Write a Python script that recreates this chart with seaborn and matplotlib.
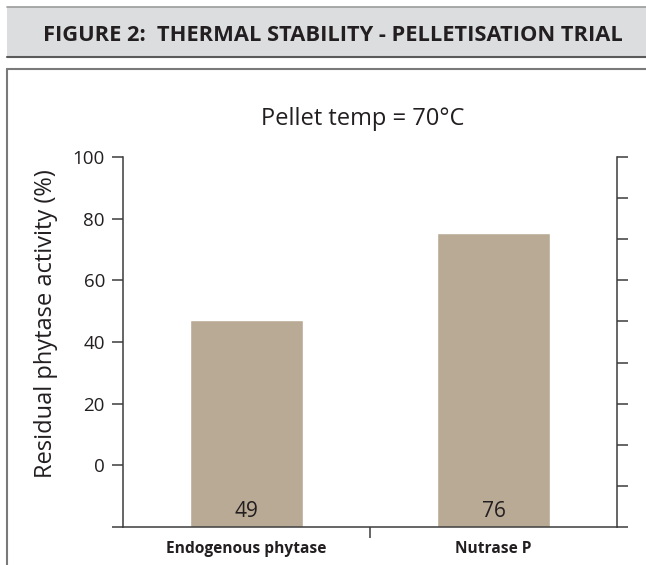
import numpy as np
import pandas as pd
import matplotlib
matplotlib.use("Agg")
import matplotlib.pyplot as plt
from matplotlib.patches import Rectangle
from matplotlib.lines import Line2D
import seaborn as sns

# ---- data ----
categories = ["Endogenous phytase", "Nutrase P"]
bar_tops = [47, 75.5]          # bar top heights as drawn
value_labels = ["49", "76"]    # printed values
y_tick_values = [-20, 0, 20, 40, 60, 80, 100]
y_tick_labels = ["", "0", "20", "40", "60", "80", "100"]
header_text = "FIGURE 2:  THERMAL STABILITY - PELLETISATION TRIAL"
title_text = "Pellet temp = 70°C"
ylabel_text = "Residual phytase activity (%)"

W, H = 646, 565
Y_MIN, Y_MAX = -20, 100
TXT = "#231f20"
BAR = "#b9aa95"
SPINE = "#3c3c3c"

sns.set_style("ticks")
plt.rcParams["font.family"] = ["Open Sans", "DejaVu Sans"]

fig = plt.figure(figsize=(W / 100, H / 100), dpi=100)

def fx(px):
    return px / W

def fy(py):
    return 1 - py / H

# header band and frame
fig.patches.append(Rectangle((fx(7), fy(56)), fx(646) - fx(7), fy(7) - fy(56),
                             transform=fig.transFigure, facecolor="#dcdddf",
                             edgecolor="none", zorder=0))
fig.lines.append(Line2D([fx(7), fx(646)], [fy(7), fy(7)], transform=fig.transFigure,
                        color="#9b9b9b", lw=1.2))
fig.lines.append(Line2D([fx(7), fx(646)], [fy(56.5), fy(56.5)], transform=fig.transFigure,
                        color="#5a5a5a", lw=1.5))
fig.lines.append(Line2D([fx(7), fx(646)], [fy(69), fy(69)], transform=fig.transFigure,
                        color="#7a7a7a", lw=1.5))
fig.lines.append(Line2D([fx(7), fx(7)], [fy(69), fy(565)], transform=fig.transFigure,
                        color="#7a7a7a", lw=1.5))

# header text fitted to width
ht = fig.text(fx(333), fy(41), header_text, ha="center", va="baseline",
              fontsize=15, fontweight="bold", color=TXT)
fig.canvas.draw()
w = ht.get_window_extent().width
ht.set_fontsize(15 * 580 / w)

# axes
ax = fig.add_axes([fx(123), fy(527), fx(617) - fx(123), fy(157) - fy(527)])
df = pd.DataFrame({"cat": categories, "top": bar_tops})
df["height"] = df["top"] - Y_MIN
sns.barplot(data=df, x="cat", y="height", bottom=Y_MIN, color=BAR, width=0.46,
            saturation=1, ax=ax, zorder=2)
ax.set_ylim(Y_MIN, Y_MAX)
ax.set_xlim(-0.5, len(categories) - 0.5)
ax.set_yticks(y_tick_values)
ax.set_yticklabels(y_tick_labels)
ax.set_xlabel("")
ax.set_ylabel("")
ax.set_xticks(range(len(categories)))
ax.set_xticklabels(categories, fontweight="bold", fontsize=11.2, color=TXT)
ax.set_xticks([0.5], minor=True)
ax.tick_params(axis="x", which="major", length=0, pad=10)
ax.tick_params(axis="x", which="minor", length=8, width=1.1, color=SPINE, direction="out")
ax.tick_params(axis="y", length=8, width=1.1, color=SPINE, direction="out",
               labelsize=13.5, labelcolor=TXT, pad=5)
for s in ["left", "bottom"]:
    ax.spines[s].set_color(SPINE)
    ax.spines[s].set_linewidth(1.1)
ax.spines["top"].set_visible(False)
ax.spines["right"].set_visible(False)

ax2 = ax.twinx()
ax2.set_ylim(Y_MIN, Y_MAX)
ax2.set_yticks(np.linspace(Y_MIN, Y_MAX, 10))
ax2.set_yticklabels([])
ax2.tick_params(axis="y", length=8, width=1.1, color=SPINE, direction="out")
for s in ["top", "left", "bottom"]:
    ax2.spines[s].set_visible(False)
ax2.spines["right"].set_color(SPINE)
ax2.spines["right"].set_linewidth(1.1)
ax2.spines["right"].set_visible(True)

# value labels at bottom of bars
for i, lab in enumerate(value_labels):
    ax.text(i, -16.6, lab, ha="center", va="baseline", fontsize=15, color=TXT, zorder=3)

# title and y label
fig.text(fx(363), fy(125), title_text, ha="center", va="baseline", fontsize=17, color=TXT)
fig.text(fx(46), fy(324), ylabel_text, ha="center", va="center", rotation=90,
         fontsize=17, color=TXT)

fig.savefig("out.png", dpi=100)
